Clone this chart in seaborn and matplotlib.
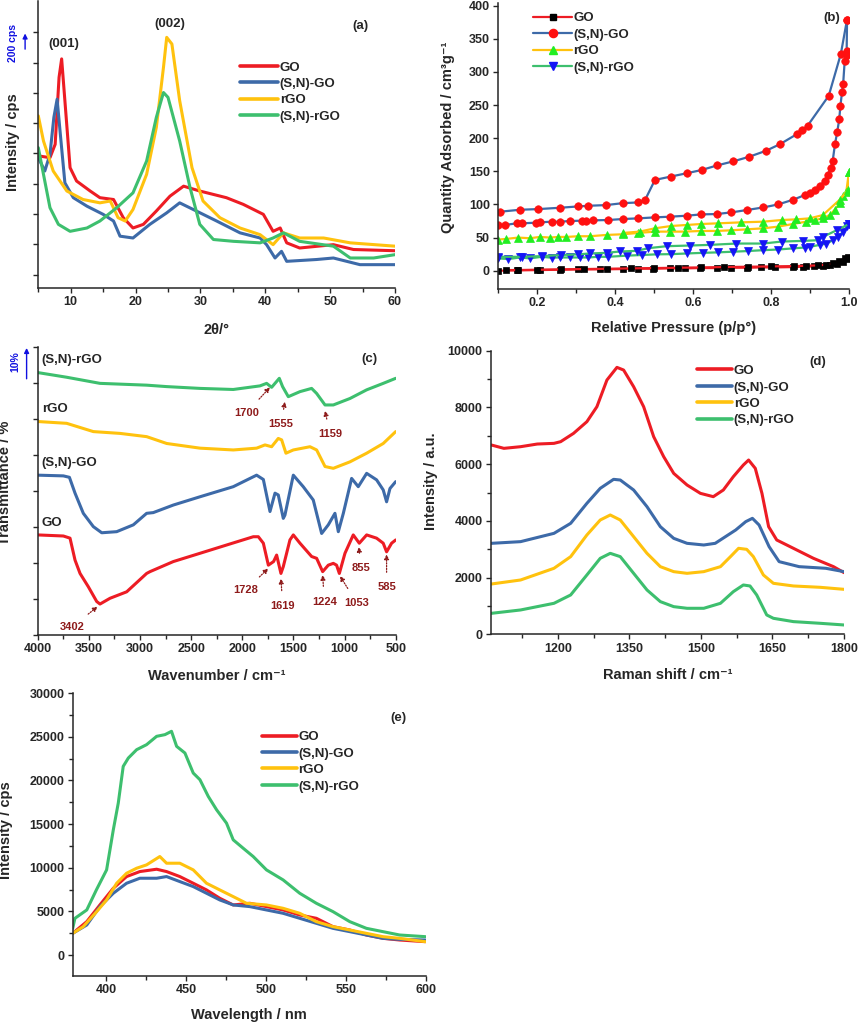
import matplotlib
matplotlib.use('Agg')
import matplotlib.pyplot as plt
import matplotlib.transforms as mtransforms
from matplotlib.lines import Line2D
from matplotlib.ticker import MultipleLocator
import seaborn as sns
import pandas as pd

samples = ['GO', '(S,N)-GO', 'rGO', '(S,N)-rGO']
colors = ['#ED1C24', '#3D6AA8', '#FFC20E', '#3DBF6E']

# (a) XRD
xrd_go_2theta = [5.0, 6.8, 7.6, 8.2, 8.6, 9.1, 9.9, 10.9, 13.0, 14.5, 16.6, 18.1, 19.6, 21.2, 23.2, 25.3, 27.4,
                 29.9, 34.0, 36.6, 39.7, 41.2, 42.3, 43.3, 45.3, 50.5, 53.6, 60.0]
xrd_go_int = [392, 386, 430, 651, 712, 574, 353, 309, 276, 254, 248, 188, 154, 166, 210, 259, 292,
              276, 254, 232, 199, 143, 154, 105, 88, 99, 83, 79]
xrd_sngo_2theta = [5.0, 6.0, 6.8, 7.4, 7.9, 8.4, 9.1, 10.4, 12.5, 15.0, 16.6, 17.6, 19.6, 22.2, 24.8, 26.8,
                   28.9, 32.5, 36.1, 39.2, 40.2, 41.5, 42.5, 43.3, 47.9, 50.5, 54.6, 60.0]
xrd_sngo_int = [386, 342, 397, 519, 579, 463, 303, 254, 226, 199, 177, 127, 121, 166, 204, 237,
                215, 177, 138, 121, 99, 55, 77, 44, 50, 55, 33, 33]
xrd_rgo_2theta = [5.0, 5.8, 7.3, 9.4, 11.9, 14.5, 16.1, 17.3, 18.4, 19.6, 21.7, 23.2, 24.3, 24.8, 25.6, 26.8,
                  28.7, 30.4, 33.0, 36.1, 39.2, 41.2, 42.8, 45.3, 49.0, 53.1, 60.0]
xrd_rgo_int = [524, 441, 342, 276, 248, 237, 243, 188, 177, 215, 331, 486, 684, 783, 761, 574,
               353, 243, 188, 154, 132, 99, 138, 121, 121, 105, 94]
xrd_snrgo_2theta = [5.0, 5.8, 6.8, 8.1, 9.9, 12.5, 14.5, 17.1, 19.6, 21.7, 23.2, 24.3, 25.0, 26.8, 28.4,
                    29.9, 32.0, 35.1, 39.2, 41.2, 42.8, 45.3, 50.5, 53.1, 56.7, 60.0]
xrd_snrgo_int = [419, 331, 221, 166, 143, 154, 177, 221, 270, 375, 519, 601, 585, 441, 287,
                 166, 116, 110, 105, 121, 138, 110, 94, 55, 55, 66]

# (b) N2 isotherms, adsorption + desorption branches
bet_go_ads_p = [0.100, 0.147, 0.207, 0.258, 0.305, 0.361, 0.420, 0.459, 0.497, 0.540, 0.579, 0.617, 0.660,
                0.698, 0.737, 0.775, 0.809, 0.856, 0.882, 0.910, 0.933, 0.950, 0.968, 0.985, 0.997]
bet_go_ads_q = [0, 0.5, 1, 1.5, 2, 2, 2.5, 3, 3, 3.5, 3.5, 4, 4, 4.5, 4.5, 5, 5, 5.5, 6, 6.5, 7, 8, 10, 13, 17]
bet_go_des_p = [0.997, 0.99, 0.975, 0.96, 0.94, 0.92, 0.89, 0.86, 0.80, 0.74, 0.68, 0.62, 0.56, 0.50, 0.44,
                0.38, 0.32, 0.26, 0.20, 0.15, 0.12]
bet_go_des_q = [21, 19, 14, 11, 9, 8, 7.5, 7, 6.5, 6, 5.5, 5, 4.5, 4, 3.5, 3, 2.5, 2, 1.5, 1, 1]

bet_sngo_ads_p = [0.100, 0.117, 0.147, 0.160, 0.198, 0.207, 0.237, 0.258, 0.284, 0.314, 0.326, 0.343, 0.382,
                  0.420, 0.459, 0.502, 0.540, 0.583, 0.621, 0.660, 0.698, 0.737, 0.780, 0.818, 0.856, 0.886,
                  0.899, 0.912, 0.925, 0.938, 0.946, 0.953, 0.958, 0.964, 0.970, 0.975, 0.978, 0.982, 0.985,
                  0.989, 0.994, 0.994, 0.995]
bet_sngo_ads_q = [69, 69, 71.5, 71.5, 72.5, 73, 74, 74, 75, 75.5, 75.5, 76, 76.5, 78, 79, 80.5, 81.5, 83, 85,
                  85.5, 88, 91.5, 95.5, 100, 107, 114, 118, 122, 128, 136, 145, 155, 165, 191, 210, 229, 249,
                  269, 282, 317, 326, 332, 379]
bet_sngo_des_p = [0.995, 0.979, 0.948, 0.894, 0.880, 0.866, 0.823, 0.787, 0.744, 0.703, 0.662, 0.622, 0.583,
                  0.542, 0.502, 0.476, 0.459, 0.420, 0.376, 0.331, 0.305, 0.258, 0.203, 0.156, 0.104]
bet_sngo_des_q = [379, 327, 264, 219, 212, 206, 191, 181, 172, 165, 159, 152, 147, 142, 137, 106, 103, 102,
                  99, 98, 97, 95, 93, 92, 89]

bet_rgo_ads_p = [0.100, 0.121, 0.151, 0.181, 0.207, 0.232, 0.254, 0.275, 0.305, 0.335, 0.378, 0.420, 0.459,
                 0.502, 0.540, 0.579, 0.621, 0.660, 0.698, 0.737, 0.780, 0.818, 0.856, 0.890, 0.912, 0.933,
                 0.950, 0.963, 0.976, 0.985, 0.993, 1.0]
bet_rgo_ads_q = [47, 48, 50, 49, 51, 50, 51, 51, 52, 52, 54, 55, 57, 59, 59, 59, 60, 60, 61, 62.4, 64, 66.5,
                 70.5, 74, 76.5, 79, 84, 91.6, 101.7, 112, 119, 149.5]
bet_rgo_des_p = [1.0, 0.997, 0.976, 0.933, 0.899, 0.865, 0.827, 0.780, 0.724, 0.664, 0.621, 0.583, 0.544,
                 0.502, 0.463, 0.420]
bet_rgo_des_q = [149.5, 122, 107, 84, 79, 77.5, 76.5, 74, 73, 71.5, 70.5, 69, 67.5, 64, 59, 57]

bet_snrgo_ads_p = [0.100, 0.126, 0.156, 0.181, 0.211, 0.237, 0.258, 0.284, 0.309, 0.331, 0.356, 0.382, 0.429,
                   0.468, 0.506, 0.544, 0.583, 0.626, 0.664, 0.703, 0.741, 0.780, 0.818, 0.856, 0.886, 0.899,
                   0.925, 0.942, 0.959, 0.972, 0.985, 0.995, 1.0]
bet_snrgo_ads_q = [18.6, 17.6, 20, 18.6, 21, 19.6, 20, 20, 20, 20, 21, 21, 22.7, 23.7, 24.7, 25, 26, 27, 27.7,
                   28.7, 29.7, 31, 32, 33.7, 35, 36, 39, 41, 46, 51, 59, 67.5, 70.5]
bet_snrgo_des_p = [1.0, 0.968, 0.933, 0.920, 0.882, 0.827, 0.780, 0.711, 0.643, 0.591, 0.532, 0.485, 0.455,
                   0.412, 0.378, 0.335, 0.305, 0.262, 0.211, 0.160, 0.100]
bet_snrgo_des_q = [70.5, 61, 51, 46, 45, 44, 41, 41, 39, 38, 37, 34, 30, 29, 27, 26, 24.7, 23.7, 22, 21, 21]

# (c) FTIR (offset transmittance, 10 % per tick)
ftir_go_wn = [4000, 3749, 3684, 3635, 3586, 3505, 3423, 3391, 3293, 3130, 2935, 2902, 2674, 2413, 2153, 1892,
              1843, 1794, 1745, 1694, 1664, 1622, 1599, 1534, 1501, 1436, 1322, 1273, 1214, 1159, 1110, 1078,
              1051, 996, 915, 856, 784, 687, 622, 589, 540, 500]
ftir_go_t = [27.8, 27.5, 26.9, 20.8, 17.1, 13.4, 9.3, 8.6, 10.2, 12.0, 17.1, 17.6, 20.4, 22.7, 25.0, 27.3,
             27.3, 25.5, 19.4, 20.4, 22.2, 17.1, 19.0, 26.4, 27.8, 25.5, 21.8, 21.3, 17.6, 19.4, 19.9, 19.4,
             17.1, 22.7, 27.8, 25.5, 27.8, 26.9, 25.5, 23.1, 25.5, 26.4]
ftir_sngo_wn = [4000, 3749, 3690, 3635, 3554, 3456, 3374, 3228, 3065, 2935, 2870, 2674, 2413, 2088, 1860, 1794,
                1729, 1680, 1648, 1599, 1583, 1501, 1404, 1306, 1224, 1159, 1094, 1061, 1012, 931, 866, 784,
                687, 622, 589, 556, 500]
ftir_sngo_t = [44.4, 44.2, 43.8, 39.4, 33.8, 30.1, 28.4, 28.7, 30.6, 33.8, 34.0, 36.1, 38.4, 41.2, 44.4, 43.2,
               34.3, 39.4, 38.9, 32.4, 33.3, 44.4, 41.2, 37.5, 28.2, 30.6, 33.8, 28.7, 33.8, 43.5, 41.2, 44.9,
               43.1, 40.3, 37.0, 40.7, 42.6]
ftir_rgo_wn = [4000, 3717, 3456, 3195, 2935, 2739, 2413, 2088, 1860, 1778, 1713, 1648, 1615, 1573, 1501, 1338,
               1273, 1191, 1110, 947, 784, 622, 500]
ftir_rgo_t = [59.3, 58.8, 56.5, 56.0, 55.1, 53.2, 51.9, 51.4, 51.9, 52.8, 52.3, 54.6, 54.2, 50.5, 51.4, 52.3,
              51.4, 46.8, 46.3, 48.1, 50.5, 53.2, 56.5]
ftir_snrgo_wn = [4000, 3717, 3391, 2935, 2739, 2413, 2088, 1827, 1762, 1713, 1638, 1606, 1550, 1436, 1322,
                 1273, 1191, 1110, 947, 784, 622, 500]
ftir_snrgo_t = [72.9, 71.6, 69.9, 69.4, 69.0, 68.5, 68.2, 69.2, 69.9, 68.8, 71.3, 69.0, 66.2, 67.6, 68.5,
                67.1, 63.9, 63.9, 65.7, 68.1, 69.9, 71.3]
ftir_peak_labels = ['1700', '1555', '1159', '1728', '1619', '1224', '1053', '855', '585', '3402']

# (d) Raman
raman_go_shift = [1061, 1087, 1122, 1157, 1192, 1206, 1233, 1261, 1282, 1303, 1324, 1338, 1359, 1380, 1401,
                  1422, 1443, 1471, 1499, 1526, 1547, 1568, 1589, 1600, 1614, 1628, 1642, 1659, 1694, 1736,
                  1778, 1800]
raman_go_int = [6674, 6557, 6615, 6709, 6733, 6792, 7085, 7497, 8025, 8965, 9412, 9318, 8730, 8025, 6968,
                6263, 5675, 5264, 4970, 4853, 5088, 5558, 5969, 6145, 5852, 4970, 3795, 3325, 3032, 2679,
                2385, 2174]
raman_sngo_shift = [1061, 1122, 1192, 1227, 1261, 1289, 1317, 1331, 1359, 1387, 1415, 1443, 1471, 1506, 1530,
                    1573, 1594, 1608, 1622, 1643, 1664, 1706, 1762, 1800]
raman_sngo_int = [3208, 3267, 3560, 3913, 4618, 5147, 5464, 5440, 5088, 4500, 3795, 3384, 3208, 3149, 3208,
                  3678, 3972, 4089, 3854, 3090, 2562, 2385, 2327, 2209]
raman_rgo_shift = [1061, 1122, 1192, 1227, 1261, 1289, 1310, 1331, 1359, 1387, 1415, 1443, 1471, 1506, 1541,
                   1562, 1579, 1596, 1610, 1631, 1652, 1694, 1750, 1800]
raman_rgo_int = [1774, 1915, 2327, 2738, 3502, 4030, 4207, 4030, 3443, 2855, 2385, 2209, 2150, 2209, 2385,
                 2738, 3032, 2996, 2738, 2092, 1798, 1704, 1657, 1586]
raman_snrgo_shift = [1061, 1122, 1192, 1227, 1261, 1289, 1310, 1331, 1359, 1387, 1415, 1443, 1471, 1506, 1541,
                     1568, 1589, 1603, 1617, 1638, 1652, 1694, 1750, 1800]
raman_snrgo_int = [740, 858, 1093, 1387, 2092, 2679, 2855, 2738, 2150, 1563, 1152, 975, 917, 917, 1093, 1504,
                   1739, 1704, 1387, 682, 564, 447, 388, 329]

# (e) photoluminescence
pl_go_nm = [379.2, 388, 396.2, 404.6, 412.9, 421.2, 431.7, 437.9, 446.2, 454.6, 462.9, 471.2, 479.6, 490,
            500.4, 510.8, 521.2, 531.6, 542, 552.5, 562.9, 573.3, 583.7, 599.8]
pl_go_int = [2485, 3823, 5734, 7646, 8984, 9557, 9825, 9557, 8984, 8219, 7455, 6499, 5734, 5926, 5543, 5161,
             4588, 4205, 3250, 2867, 2294, 1912, 1720, 1529]
pl_sngo_nm = [379.2, 388, 396.2, 404.6, 412.9, 421.2, 431.7, 437.9, 446.2, 454.6, 462.9, 471.2, 479.6, 490,
              500.4, 510.8, 521.2, 531.6, 542, 552.5, 562.9, 573.3, 583.7, 599.8]
pl_sngo_int = [2485, 3441, 5543, 7073, 8219, 8793, 8793, 8984, 8410, 7837, 7073, 6308, 5734, 5543, 5161, 4779,
               4205, 3632, 3058, 2676, 2294, 1912, 1797, 1720]
pl_rgo_nm = [379.2, 385.8, 394.2, 400.4, 406.7, 412.9, 419.2, 425.4, 433.7, 437.9, 446.2, 454.6, 462.9, 471.2,
             479.6, 487.9, 500.4, 510.8, 521.2, 531.6, 542, 552.5, 562.9, 573.3, 583.7, 599.8]
pl_rgo_int = [2485, 3250, 4970, 6308, 8219, 9366, 9940, 10322, 11278, 10513, 10513, 9748, 8219, 7455, 6690,
              5926, 5734, 5352, 4779, 3823, 3250, 2867, 2485, 2103, 1912, 1529]
pl_snrgo_nm = [379.2, 380.6, 388, 394, 400.4, 404.6, 407.7, 410.8, 414, 419.2, 425.4, 431.7, 436.9, 441,
               444.2, 449.4, 454.6, 458.8, 464, 469.2, 475.4, 479.6, 485.8, 492.1, 500.4, 510.8, 521.2, 531.6,
               542, 552.5, 562.9, 573.3, 583.7, 599.8]
pl_snrgo_int = [3058, 4205, 5161, 7455, 9748, 14335, 17394, 21600, 22555, 23511, 24085, 25040, 25232, 25614,
                23894, 23129, 20835, 20071, 18159, 16630, 15101, 13189, 12234, 11278, 9748, 8602, 7073, 5926,
                4970, 3823, 3058, 2676, 2294, 2103]

sns.set_theme(style='ticks')
plt.rcParams['font.family'] = ['Liberation Sans', 'DejaVu Sans']
plt.rcParams['font.weight'] = 'bold'
plt.rcParams['axes.labelweight'] = 'bold'
plt.rcParams['axes.linewidth'] = 1.1
plt.rcParams['xtick.major.size'] = 3.5
plt.rcParams['ytick.major.size'] = 3.5
plt.rcParams['xtick.minor.size'] = 3.0
plt.rcParams['ytick.minor.size'] = 3.0
plt.rcParams['xtick.major.width'] = 1.0
plt.rcParams['ytick.major.width'] = 1.0
plt.rcParams['xtick.minor.width'] = 1.0
plt.rcParams['ytick.minor.width'] = 1.0

TICK = 9
LABEL = 10.5
LEG = 9.5
TAG = 9.5
palette = dict(zip(samples, colors))


def draw_curves(ax, xs, ys, lw=2.2):
    parts = []
    for name, x, y in zip(samples, xs, ys):
        parts.append(pd.DataFrame({'x': x, 'y': y, 'sample': name}))
    df = pd.concat(parts, ignore_index=True)
    sns.lineplot(data=df, x='x', y='y', hue='sample', units='sample', estimator=None, sort=False,
                 palette=palette, hue_order=samples, lw=lw, legend=False, ax=ax)


def add_legend(ax, x0, y0, handles=None, hl=2.65):
    if handles is None:
        handles = [Line2D([], [], color=c, lw=2.6) for c in colors]
    ax.legend(handles, samples, loc='upper left', bbox_to_anchor=(x0, y0), frameon=False, borderpad=0,
              borderaxespad=0, handlelength=hl, handletextpad=0.12, labelspacing=0.32,
              prop={'weight': 'bold', 'size': LEG})


def style_axes(ax, xlab, ylab, xl_y, yl_x, yl_y=0.5):
    sns.despine(ax=ax)
    ax.tick_params(which='both', direction='out', labelsize=TICK, pad=2.5)
    for lab in ax.get_xticklabels() + ax.get_yticklabels():
        lab.set_fontweight('bold')
    ax.set_xlabel(xlab, fontsize=LABEL, fontweight='bold')
    ax.set_ylabel(ylab, fontsize=LABEL, fontweight='bold')
    ax.xaxis.set_label_coords(0.5, xl_y)
    ax.yaxis.set_label_coords(yl_x, yl_y)


fig = plt.figure(figsize=(8.59, 10.24), dpi=100)
W, H = 859.0, 1024.0


def add_ax(x0, y0, x1, y1):
    return fig.add_axes([x0 / W, 1 - y1 / H, (x1 - x0) / W, (y1 - y0) / H])


# ---------------- (a) XRD ----------------
ax = add_ax(38.3, 1, 395, 288)
draw_curves(ax, [xrd_go_2theta, xrd_sngo_2theta, xrd_rgo_2theta, xrd_snrgo_2theta],
            [xrd_go_int, xrd_sngo_int, xrd_rgo_int, xrd_snrgo_int])
ax.set_xlim(5, 60)
ax.set_ylim(-44, 903)
ax.xaxis.set_major_locator(MultipleLocator(10))
ax.xaxis.set_minor_locator(MultipleLocator(5))
ax.set_yticks(range(0, 900, 100))
ax.tick_params(axis='y', labelleft=False)
style_axes(ax, '2θ/°', 'Intensity / cps', -0.122, -0.051, 0.51)
ax.text(9.0, 761, '(001)', ha='center', va='center', fontsize=TAG, fontweight='bold')
ax.text(25.3, 828, '(002)', ha='center', va='center', fontsize=TAG, fontweight='bold')
ax.text(54.6, 822, '(a)', ha='center', va='center', fontsize=TAG, fontweight='bold')
tr = mtransforms.blended_transform_factory(ax.transAxes, ax.transData)
ax.annotate('', xy=(-0.037, 805), xytext=(-0.037, 735), xycoords=tr, textcoords=tr,
            arrowprops=dict(arrowstyle='-|>', color='#1010E0', lw=1.0, mutation_scale=7), annotation_clip=False)
ax.text(-0.072, 765, '200 cps', transform=tr, rotation=90, ha='center', va='center', fontsize=7.5,
        color='#1010E0', fontweight='bold')
add_legend(ax, 0.565, 0.79, hl=2.9)

# ---------------- (b) isotherms ----------------
ax = add_ax(498.3, 3, 849, 289)
marker_styles = [('s', '#000000', 4.4), ('o', '#FF1010', 5.4), ('^', '#22EE22', 5.4), ('v', '#1515F5', 5.4)]
bet_branches = [
    [(bet_go_ads_p, bet_go_ads_q), (bet_go_des_p, bet_go_des_q)],
    [(bet_sngo_ads_p, bet_sngo_ads_q), (bet_sngo_des_p, bet_sngo_des_q)],
    [(bet_rgo_ads_p, bet_rgo_ads_q), (bet_rgo_des_p, bet_rgo_des_q)],
    [(bet_snrgo_ads_p, bet_snrgo_ads_q), (bet_snrgo_des_p, bet_snrgo_des_q)],
]
handles = []
for col, (mk, mcol, ms), branches in zip(colors, marker_styles, bet_branches):
    for p, q in branches:
        sns.lineplot(x=p, y=q, sort=False, estimator=None, color=col, lw=1.6, marker=mk, markersize=ms,
                     markerfacecolor=mcol, markeredgecolor=mcol, markeredgewidth=0.5, ax=ax, legend=False)
    handles.append(Line2D([], [], color=col, lw=1.6, marker=mk, markersize=ms + 0.5,
                          markerfacecolor=mcol, markeredgecolor=mcol))
ax.set_xlim(0.1, 1.0)
ax.set_ylim(-27.6, 404)
ax.xaxis.set_major_locator(MultipleLocator(0.2))
ax.xaxis.set_minor_locator(MultipleLocator(0.1))
ax.yaxis.set_major_locator(MultipleLocator(50))
style_axes(ax, 'Relative Pressure (p/p°)', 'Quantity Adsorbed / cm³g⁻¹', -0.112, -0.123, 0.53)
ax.text(0.955, 381, '(b)', ha='center', va='center', fontsize=TAG, fontweight='bold')
add_legend(ax, 0.1, 0.968, handles=handles, hl=2.9)

# ---------------- (c) FTIR ----------------
ax = add_ax(37.7, 347, 395.7, 635)
draw_curves(ax, [ftir_go_wn, ftir_sngo_wn, ftir_rgo_wn, ftir_snrgo_wn],
            [ftir_go_t, ftir_sngo_t, ftir_rgo_t, ftir_snrgo_t])
ax.set_xlim(4000, 500)
ax.set_ylim(0, 80)
ax.xaxis.set_major_locator(MultipleLocator(500))
ax.xaxis.set_minor_locator(MultipleLocator(250))
ax.set_yticks(range(0, 90, 10))
ax.tick_params(axis='y', labelleft=False)
style_axes(ax, 'Wavenumber / cm⁻¹', 'Transmittance / %', -0.118, -0.071, 0.53)
for name, yy in zip(['(S,N)-rGO', 'rGO', '(S,N)-GO', 'GO'], [76.4, 62.7, 47.7, 31.2]):
    ax.text(3961, yy, name, ha='left', va='center', fontsize=TAG, fontweight='bold')
ax.text(758, 76.6, '(c)', ha='center', va='center', fontsize=TAG, fontweight='bold')
# arrow tip (on curve) and text position for each band label
tips = [(1729, 68.8), (1583, 64.8), (1191, 62.3), (1745, 18.5), (1622, 15.7), (1214, 16.7), (1045, 16.4),
        (860, 24.5), (589, 22.4), (3414, 7.9)]
texts = [(1957, 61.8), (1622, 58.5), (1143, 55.8), (1967, 12.5), (1605, 8.1), (1198, 9.3), (882, 9.0),
         (840, 18.5), (589, 13.2), (3661, 2.3)]
for lab, tip, tpos in zip(ftir_peak_labels, tips, texts):
    ax.annotate(lab, xy=tip, xytext=tpos, ha='center', va='center', fontsize=8, fontweight='bold',
                color='#8E1B1B',
                arrowprops=dict(arrowstyle='-|>', linestyle=(0, (1, 1.2)), color='#8E1B1B', lw=0.9,
                                mutation_scale=7, shrinkA=5, shrinkB=0))
tr = mtransforms.blended_transform_factory(ax.transAxes, ax.transData)
ax.annotate('', xy=(-0.031, 80.5), xytext=(-0.031, 70.4), xycoords=tr, textcoords=tr,
            arrowprops=dict(arrowstyle='-|>', color='#1010E0', lw=1.0, mutation_scale=7), annotation_clip=False)
ax.text(-0.063, 76, '10%', transform=tr, rotation=90, ha='center', va='center', fontsize=7.5,
        color='#1010E0', fontweight='bold')

# ---------------- (d) Raman ----------------
ax = add_ax(491, 350.7, 844, 634.3)
draw_curves(ax, [raman_go_shift, raman_sngo_shift, raman_rgo_shift, raman_snrgo_shift],
            [raman_go_int, raman_sngo_int, raman_rgo_int, raman_snrgo_int])
ax.set_xlim(1060, 1800)
ax.set_ylim(0, 10000)
ax.set_xticks([1200, 1350, 1500, 1650, 1800])
ax.xaxis.set_minor_locator(MultipleLocator(75))
ax.yaxis.set_major_locator(MultipleLocator(2000))
ax.yaxis.set_minor_locator(MultipleLocator(1000))
style_axes(ax, 'Raman shift / cm⁻¹', 'Intensity / a.u.', -0.119, -0.150, 0.54)
ax.text(1746, 9611, '(d)', ha='center', va='center', fontsize=TAG, fontweight='bold')
add_legend(ax, 0.584, 0.95)

# ---------------- (e) PL ----------------
ax = add_ax(72.7, 693, 425.7, 976)
draw_curves(ax, [pl_go_nm, pl_sngo_nm, pl_rgo_nm, pl_snrgo_nm],
            [pl_go_int, pl_sngo_int, pl_rgo_int, pl_snrgo_int])
ax.set_xlim(379.2, 600)
ax.set_ylim(-2400, 30000)
ax.xaxis.set_major_locator(MultipleLocator(50))
ax.xaxis.set_minor_locator(MultipleLocator(25))
ax.yaxis.set_major_locator(MultipleLocator(5000))
ax.yaxis.set_minor_locator(MultipleLocator(2500))
style_axes(ax, 'Wavelength / nm', 'Intensity / cps', -0.113, -0.169, 0.516)
ax.text(582.7, 27143, '(e)', ha='center', va='center', fontsize=TAG, fontweight='bold')
add_legend(ax, 0.536, 0.866)

fig.savefig('out.png', dpi=100)
